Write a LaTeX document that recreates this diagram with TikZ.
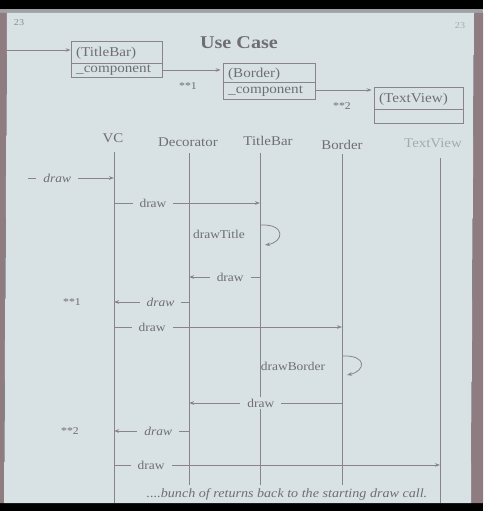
\documentclass[tikz,border=0pt]{standalone}
\usepackage{fontspec}
\setmainfont[FakeStretch=1.12]{Liberation Serif}
\usetikzlibrary{arrows.meta}

\definecolor{slidebg}{HTML}{D8E1E3}
\definecolor{frameedge}{HTML}{8E7C81}
\definecolor{topstrip}{HTML}{9EA2A4}
\definecolor{ink}{HTML}{6F6E73}
\definecolor{wire}{HTML}{8A8389}
\definecolor{faint}{HTML}{A4AAB1}

\tikzset{
  lifeline/.style={draw=wire, line width=0.9pt},
  msg/.style={draw=wire, line width=0.8pt, -{Stealth[length=5pt,width=3.6pt]}},
  msglabel/.style={fill=slidebg, text=ink, inner xsep=7pt, inner ysep=1.5pt,
    font=\fontsize{12}{13}\selectfont},
  selflabel/.style={text=ink, inner sep=0pt, font=\fontsize{12}{13}\selectfont},
  head/.style={text=ink, inner sep=0pt, font=\fontsize{13.3}{15}\selectfont},
  objbox/.style={draw=wire, line width=0.8pt, inner sep=0pt},
  boxtext/.style={text=ink, inner sep=0pt, anchor=west, font=\fontsize{13.5}{15}\selectfont},
  marker/.style={text=ink, inner sep=0pt, font=\fontsize{10.5}{12}\selectfont},
}

\begin{document}
\begin{tikzpicture}[x=1pt,y=-1pt]
\useasboundingbox (0,0) rectangle (483,511);

% slide frame
\fill[black] (0,0) rectangle (483,511);
\fill[topstrip] (0,9) rectangle (483,14);
\fill[frameedge] (0,13) -- (7,13) -- (4,503) -- (0,503) -- cycle;
\fill[frameedge] (474,13) -- (483,13) -- (483,503) -- (471,503) -- cycle;
\fill[slidebg] (7,13) -- (474,13) -- (471,503) -- (4,503) -- cycle;

% page numbers and heading
\node[text=ink!80, font=\fontsize{9}{10}\selectfont] (pgl) at (19,23) {23};
\node[text=faint, font=\fontsize{9}{10}\selectfont] (pgr) at (460,26) {23};
\node[text=ink, font=\fontsize{18}{20}\bfseries] (title) at (239,43) {Use Case};

% object chain
\node[objbox, minimum width=91pt, minimum height=36pt] (tbbox) at (116.5,59.5) {};
\node[objbox, minimum width=92pt, minimum height=36pt] (bdbox) at (269,81) {};
\node[objbox, minimum width=89pt, minimum height=36pt] (tvbox) at (418.5,105) {};
\coordinate (tbdiv) at (0,63);
\coordinate (bddiv) at (0,82);
\coordinate (tvdiv) at (0,109);
\draw[wire, line width=0.8pt] (tbbox.west |- tbdiv) -- (tbbox.east |- tbdiv);
\draw[wire, line width=0.8pt] (bdbox.west |- bddiv) -- (bdbox.east |- bddiv);
\draw[wire, line width=0.8pt] (tvbox.west |- tvdiv) -- (tvbox.east |- tvdiv);
\node[boxtext] (tbname) at (76,53) {(TitleBar)};
\node[boxtext] (tbcomp) at (76,70) {\_component};
\node[boxtext] (bdname) at (228,74) {(Border)};
\node[boxtext] (bdcomp) at (228,91) {\_component};
\node[boxtext] (tvname) at (379,99) {(TextView)};

\coordinate (entry) at (7,50);
\coordinate (tbout) at (0,70);
\coordinate (bdout) at (0,90);
\draw[msg] (entry) -- (tbbox.west |- entry);
\draw[msg] (tbbox.east |- tbout) -- ([xshift=-2pt]bdbox.west |- tbout);
\draw[msg] (bdbox.east |- bdout) -- ([xshift=-2pt]tvbox.west |- bdout);
\node[marker] (s1top) at (188,86) {**1};
\node[marker] (s2top) at (342,106) {**2};

% lifeline heads
\node[head] (vc) at (113,138) {VC};
\node[head] (dec) at (188,142) {Decorator};
\node[head] (tb) at (268,141) {TitleBar};
\node[head] (bd) at (342,145) {Border};
\node[head, text=faint] (tv) at (433,143) {TextView};

\coordinate (vcT) at (114,152);  \coordinate (vcB) at (114,503);
\coordinate (decT) at (189,153); \coordinate (decB) at (189,503);
\coordinate (tbT) at (260,153);  \coordinate (tbB) at (260,503);
\coordinate (bdT) at (342,154);  \coordinate (bdB) at (342,490);
\coordinate (tvT) at (440,158);  \coordinate (tvB) at (440,503);
\foreach \t/\b in {vcT/vcB, decT/decB, tbT/tbB, bdT/bdB, tvT/tvB}
  \draw[lifeline] (\t) -- (\b);

% message rows
\coordinate (r1) at (0,178);
\coordinate (r2) at (0,203);
\coordinate (r4) at (0,277);
\coordinate (r5) at (0,302);
\coordinate (r6) at (0,327);
\coordinate (r8) at (0,403);
\coordinate (r9) at (0,431);
\coordinate (r10) at (0,465);
\coordinate (m1s) at (28,178);

\draw[msg] (m1s) -- node[msglabel, pos=0.34] {\itshape draw} (vcT |- r1);
\draw[msg] (vcT |- r2) -- node[msglabel, pos=0.267] {draw} (tbT |- r2);

% drawTitle self call
\node[selflabel] (dtitle) at (219,234) {drawTitle};
\coordinate (dt1) at (261,225);
\coordinate (dt2) at (265,245);
\draw[msg] (dt1) .. controls (286,224) and (284,242) .. (dt2);

\draw[msg] (tbT |- r4) -- node[msglabel, pos=0.42] {draw} (decT |- r4);
\draw[msg] (decT |- r5) -- node[msglabel, pos=0.38] {\itshape draw} (vcT |- r5);
\node[marker] (s1) at (72,302) {**1};
\draw[msg] (vcT |- r6) -- node[msglabel, pos=0.167] {draw} (bdT |- r6);

% drawBorder self call
\node[selflabel] (dborder) at (293,366) {drawBorder};
\coordinate (db1) at (343,356);
\coordinate (db2) at (347,375);
\draw[msg] (db1) .. controls (367,355) and (366,371) .. (db2);

\draw[msg] (bdT |- r8) -- node[msglabel, pos=0.53] {draw} (decT |- r8);
\draw[msg] (decT |- r9) -- node[msglabel, pos=0.41] {\itshape draw} (vcT |- r9);
\node[marker] (s2) at (70,431) {**2};
\draw[msg] (vcT |- r10) -- node[msglabel, pos=0.114] {draw} (tvT |- r10);

\node[fill=slidebg, text=ink, inner xsep=2pt, inner ysep=3pt,
      font=\fontsize{12.6}{14}\itshape] (tail) at (287,494)
  {....bunch of returns back to the starting draw call.};
\end{tikzpicture}
\end{document}
